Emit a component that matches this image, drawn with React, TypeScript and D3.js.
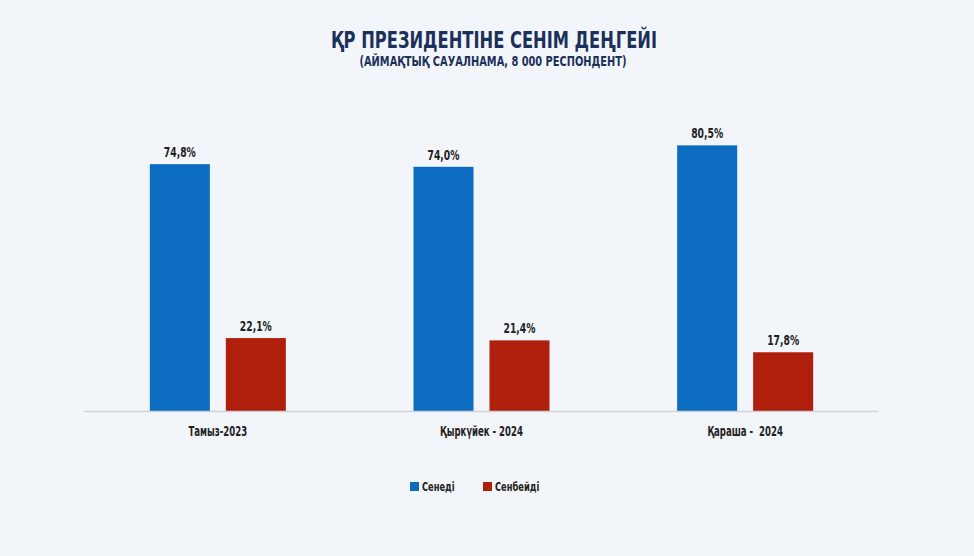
import * as React from 'react';
import {useEffect, useRef} from 'react';
import * as d3 from 'd3';

const categories = ['Тамыз-2023', 'Қыркүйек - 2024', 'Қараша -  2024'];
const seriesNames = ['Сенеді', 'Сенбейді'];
const trustValues = [74.8, 74.0, 80.5];
const distrustValues = [22.1, 21.4, 17.8];
const valueLabels = [['74,8%', '22,1%'], ['74,0%', '21,4%'], ['80,5%', '17,8%']];

const W = 974;
const H = 556;
const colors = ['#0b6cc0', '#b01f0c'];
const font = "'DejaVu Sans Condensed', 'Roboto', sans-serif";

// condensed text: draw at origin then squeeze horizontally
const addText = (parent, x, y, txt, size, sx, anchor, fill) => {
    return parent.append('text')
        .attr('transform', `translate(${x},${y}) scale(${sx},1)`)
        .attr('text-anchor', anchor)
        .style('font-family', font).style('font-weight', 'bold').style('font-size', size + 'px')
        .style('white-space', 'pre')
        .attr('fill', fill)
        .text(txt);
};

const App = () => {
    const chartRef = useRef(null);

    useEffect(() => {
        const svg = d3.select(chartRef.current);
        svg.selectAll('*').remove();

        svg.append('rect').attr('width', W).attr('height', H).attr('fill', '#f2f6fa');

        const baseline = 411;
        const x0 = d3.scaleBand().domain(categories).range([86, 877]).paddingInner(0);
        const x1 = d3.scaleBand().domain(seriesNames).range([0, x0.bandwidth()])
            .paddingInner(0.21).paddingOuter(0.84);
        const y = d3.scaleLinear().domain([0, 100]).range([baseline, baseline - 330]);

        svg.append('text')
            .attr('x', 494).attr('y', 48)
            .attr('text-anchor', 'middle')
            .attr('textLength', 326).attr('lengthAdjust', 'spacingAndGlyphs')
            .style('font-family', font).style('font-weight', 'bold').style('font-size', '23px')
            .attr('fill', '#1c305c')
            .text('ҚР ПРЕЗИДЕНТІНЕ СЕНІМ ДЕҢГЕЙІ');

        svg.append('text')
            .attr('x', 493).attr('y', 66)
            .attr('text-anchor', 'middle')
            .attr('textLength', 267).attr('lengthAdjust', 'spacingAndGlyphs')
            .style('font-family', font).style('font-weight', 'bold').style('font-size', '13.5px')
            .attr('fill', '#1c305c')
            .text('(АЙМАҚТЫҚ САУАЛНАМА, 8 000 РЕСПОНДЕНТ)');

        const rows = categories.map((c, i) => ({
            cat: c,
            vals: [trustValues[i], distrustValues[i]],
            labels: valueLabels[i]
        }));

        rows.forEach(row => {
            const g = svg.append('g').attr('transform', `translate(${x0(row.cat)},0)`);
            row.vals.forEach((v, j) => {
                const name = seriesNames[j];
                g.append('rect')
                    .attr('x', x1(name))
                    .attr('y', y(v))
                    .attr('width', x1.bandwidth())
                    .attr('height', baseline - y(v))
                    .attr('fill', colors[j]);
                addText(g, x1(name) + x1.bandwidth() / 2, y(v) - 7, row.labels[j], 13.5, 0.76, 'middle', '#222');
            });
        });

        svg.append('line')
            .attr('x1', 84).attr('x2', 878)
            .attr('y1', baseline + 0.5).attr('y2', baseline + 0.5)
            .attr('stroke', '#cfd3d8').attr('stroke-width', 1.5);

        categories.forEach(c => {
            addText(svg, x0(c) + x0.bandwidth() / 2, 436, c, 14, 0.68, 'middle', '#222');
        });

        const legendX = [410, 483];
        seriesNames.forEach((n, i) => {
            svg.append('rect')
                .attr('x', legendX[i]).attr('y', 482)
                .attr('width', 9).attr('height', 9)
                .attr('fill', colors[i]);
            addText(svg, legendX[i] + 12, 491, n, 12.5, 0.74, 'start', '#222');
        });
    }, []);

    return (
        <div style={{position: 'absolute', left: 0, top: 0}}>
            <svg ref={chartRef} width={W} height={H} style={{display: 'block'}}></svg>
        </div>
    );
};

export default App;
